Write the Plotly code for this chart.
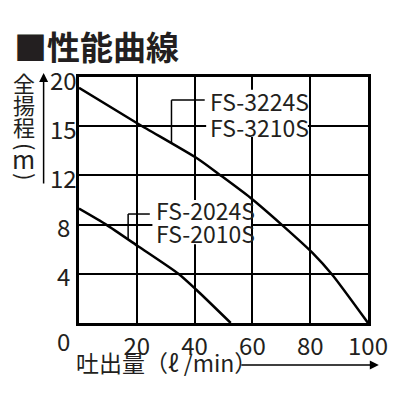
import numpy as np
import plotly.graph_objects as go

FONT = 'Noto Sans CJK JP'

# 目盛（縦軸は不等間隔の目盛）
head_ticks = [0, 4, 8, 12, 15, 20]
flow_ticks = [20, 40, 60, 80, 100]

# FS-3224S / FS-3210S
flow_32 = [0, 20.7, 41.2, 49.0, 59.2, 70.1, 80.8, 87.7, 100]
head_32 = [18.9, 15.2, 13.0, 12.0, 10.2, 8.0, 5.7, 3.9, 0]

# FS-2024S / FS-2010S
flow_20 = [0, 9.4, 20.7, 34.4, 40.6, 52.5]
head_20 = [9.3, 8.0, 6.2, 4.0, 2.7, 0]

labels_32 = ['FS-3224S', 'FS-3210S']
labels_20 = ['FS-2024S', 'FS-2010S']


def to_grid(h):
    # 揚程[m] -> 等間隔の目盛位置
    return np.interp(h, head_ticks, np.arange(len(head_ticks)))


def px_x(p):
    return (p - 79) / 294


def px_y(p):
    return (323 - p) / 246


fig = go.Figure()

for q, h in [(flow_32, head_32), (flow_20, head_20)]:
    fig.add_trace(go.Scatter(
        x=q, y=to_grid(h), mode='lines',
        line=dict(color='black', width=2.5, shape='spline', smoothing=0.6),
        hoverinfo='skip', showlegend=False
    ))

# 機種名の下地（グリッドを隠す）
for x0, x1, y0, y1 in [(44.0, 79.2, 3.78, 4.74), (25.4, 59.5, 1.6, 2.5)]:
    fig.add_shape(type='rect', x0=x0, x1=x1, y0=y0, y1=y1,
                  fillcolor='white', line=dict(width=0), layer='above')

# 引出線
for xq, q, h, ytop, xend in [(32, flow_32, head_32, 4.53, 43.5),
                              (17, flow_20, head_20, 2.215, 24.5)]:
    y_on = float(to_grid(np.interp(xq, q, h)))
    fig.add_shape(type='line', x0=xq, x1=xq, y0=y_on, y1=ytop,
                  line=dict(color='black', width=1.5))
    fig.add_shape(type='line', x0=xq, x1=xend, y0=ytop, y1=ytop,
                  line=dict(color='black', width=1.5))

# 機種名
for xl, ys, labels in [(44.6, [4.52, 3.99], labels_32),
                       (25.9, [2.29, 1.83], labels_20)]:
    for yl, t in zip(ys, labels):
        fig.add_annotation(x=xl, y=yl, text=t, showarrow=False,
                           xanchor='left', yanchor='middle',
                           font=dict(family=FONT, size=23, color='#231f20'))

# 縦軸の目盛ラベル
for i, t in enumerate(head_ticks[1:], start=1):
    fig.add_annotation(x=px_x(63), xref='paper', y=i, yref='y',
                       text=str(t), showarrow=False, yshift=-2,
                       xanchor='center', yanchor='middle',
                       font=dict(family=FONT, size=24, color='#231f20'))
fig.add_annotation(x=px_x(63), xref='paper', y=px_y(340), yref='paper',
                   text='0', showarrow=False, xanchor='center', yanchor='middle',
                   font=dict(family=FONT, size=24, color='#231f20'))

# 縦軸タイトル（縦書き）
for ch, xc, yc, ang, sz in [('全', 23, 82, 0, 22), ('揚', 23, 104, 0, 22),
                            ('程', 23, 126, 0, 22), ('(', 26, 147, 90, 22),
                            ('m', 23, 158, 0, 25), (')', 26, 177, 90, 22)]:
    fig.add_annotation(x=px_x(xc), xref='paper', y=px_y(yc), yref='paper',
                       text=ch, showarrow=False, textangle=ang,
                       xanchor='center', yanchor='middle',
                       font=dict(family=FONT, size=sz, color='#231f20'))

# 矢印
fig.add_annotation(x=px_x(43), y=px_y(73), xref='paper', yref='paper',
                   ax=0, ay=112, text='', showarrow=True,
                   arrowhead=2, arrowsize=1.2, arrowwidth=1.5, arrowcolor='black')
fig.add_annotation(x=px_x(384), y=px_y(365), xref='paper', yref='paper',
                   ax=-139, ay=0, text='', showarrow=True,
                   arrowhead=2, arrowsize=1.2, arrowwidth=1.5, arrowcolor='black')

# 横軸タイトル
fig.add_annotation(x=px_x(74), y=px_y(362), xref='paper', yref='paper',
                   text='吐出量（ℓ /min）', showarrow=False,
                   xanchor='left', yanchor='middle',
                   font=dict(family=FONT, size=23, color='#231f20'))

# タイトル
fig.add_annotation(x=px_x(11), y=px_y(46), xref='paper', yref='paper',
                   text='<b>■性能曲線</b>', showarrow=False,
                   xanchor='left', yanchor='middle',
                   font=dict(family=FONT, size=33, color='#231f20'))

fig.update_layout(
    width=400, height=400,
    margin=dict(l=79, r=27, t=77, b=77),
    paper_bgcolor='white', plot_bgcolor='white',
    xaxis=dict(range=[0, 100], tickvals=flow_ticks,
               ticktext=[str(v) for v in flow_ticks],
               showgrid=True, gridcolor='black', gridwidth=1.5,
               showline=True, linecolor='black', linewidth=3, mirror=True,
               zeroline=False, ticks='',
               tickfont=dict(family=FONT, size=24, color='#231f20')),
    yaxis=dict(range=[0, len(head_ticks) - 1],
               tickvals=list(range(1, len(head_ticks) - 1)),
               showticklabels=False,
               showgrid=True, gridcolor='black', gridwidth=1.5,
               showline=True, linecolor='black', linewidth=3, mirror=True,
               zeroline=False, ticks=''),
)

fig.write_html("out.html", post_script="document.body.style.margin='0';",
               config={'displayModeBar': False})
